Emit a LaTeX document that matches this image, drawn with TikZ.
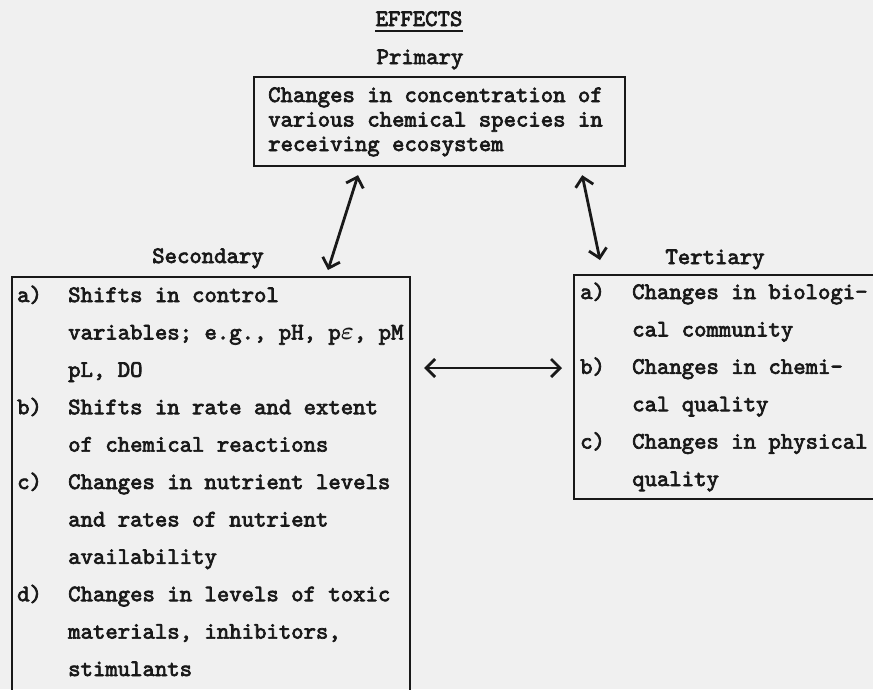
\documentclass[tikz,border=0pt]{standalone}
\usepackage{amsmath}
\usepackage{fontspec}
\usetikzlibrary{arrows.meta}
\newfontfamily\twfam{lmmono10-regular.otf}[FakeBold=3]
\definecolor{paper}{RGB}{240,240,240}
\definecolor{ink}{RGB}{25,25,25}
\newcommand{\twfont}[1]{\twfam\fontsize{23.6}{#1}\selectfont}
\tikzset{
  boxframe/.style={draw=ink, line width=2.2pt, inner sep=0pt, anchor=north west},
  heading/.style={text=ink, inner sep=0pt, anchor=base, font=\twfont{24}},
  body/.style={text=ink, inner sep=0pt, anchor=base west},
  dbl/.style={draw=ink, line width=2.8pt, {Straight Barb[length=9pt,width=18pt]}-{Straight Barb[length=9pt,width=18pt]}},
}
\begin{document}
\begin{tikzpicture}[x=1pt,y=-1pt]
\path[use as bounding box, fill=paper] (0,0) rectangle (873,689);
\clip (0,0) rectangle (873,689);

% headings
\node[heading] (eff) at (419,26) {EFFECTS};
\draw[ink, line width=1.8pt] ([yshift=-5pt]eff.base west) -- ([yshift=-5pt]eff.base east);
\node[heading] (plab) at (420,64) {Primary};
\node[heading] (slab) at (208,263) {Secondary};
\node[heading] (tlab) at (715,264) {Tertiary};

% boxes
\node[boxframe, minimum width=371pt, minimum height=89pt] (prim) at (253,76) {};
\node[boxframe, minimum width=398pt, minimum height=460pt] (sec) at (11,276) {};
\node[boxframe, minimum width=330pt, minimum height=224pt] (ter) at (573,274) {};

% texts
\node[body, font=\twfont{24.5}] (ptext) at (268,102)
  {\begin{tabular}[t]{@{}l@{}}
   Changes in concentration of\\
   various chemical species in\\
   receiving ecosystem
   \end{tabular}};

\node[body, font=\twfont{37.4}] (stext) at (17,302)
  {\begin{tabular}[t]{@{}p{51pt}@{}l@{}}
   a) & Shifts in control\\
      & variables; e.g., pH, p$\boldsymbol{\varepsilon}$, pM\\
      & pL, DO\\
   b) & Shifts in rate and extent\\
      & of chemical reactions\\
   c) & Changes in nutrient levels\\
      & and rates of nutrient\\
      & availability\\
   d) & Changes in levels of toxic\\
      & materials, inhibitors,\\
      & stimulants
   \end{tabular}};

\node[body, font=\twfont{37.4}] (ttext) at (580,299)
  {\begin{tabular}[t]{@{}p{52pt}@{}l@{}}
   a) & Changes in biologi-\\
      & cal community\\
   b) & Changes in chemi-\\
      & cal quality\\
   c) & Changes in physical\\
      & quality
   \end{tabular}};

% connectors
\draw[dbl] ([shift={(105,8)}]prim.south west) -- ([shift={(317,-6)}]sec.north west);
\draw[dbl] ([shift={(-44,8)}]prim.south east) -- ([shift={(27,-14)}]ter.north west);
\draw[dbl] ([shift={(13,92)}]sec.north east) -- ([shift={(-11,94)}]ter.north west);
\end{tikzpicture}
\end{document}
